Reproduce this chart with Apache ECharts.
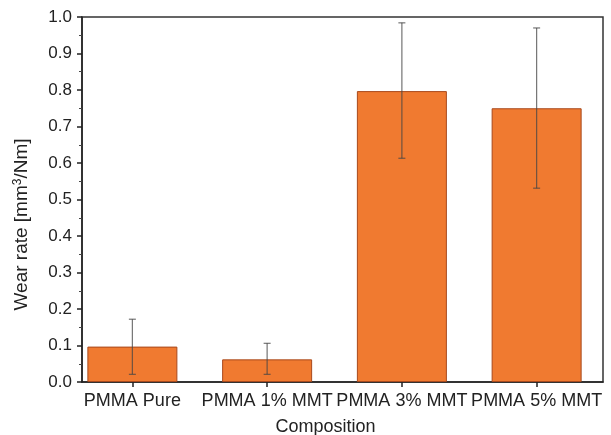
<!DOCTYPE html>
<html>
<head>
<meta charset="utf-8">
<script src="https://cdn.jsdelivr.net/npm/echarts@6/dist/echarts.min.js"></script>
<style>html,body{margin:0;padding:0;background:#fff}#c{width:611px;height:435px}</style>
</head>
<body>
<div id="c"></div>
<script>
const categories = ['PMMA Pure', 'PMMA 1% MMT', 'PMMA 3% MMT', 'PMMA 5% MMT'];
const wearRate = [0.097, 0.062, 0.797, 0.750];
const errLow = [0.021, 0.021, 0.613, 0.531];
const errHigh = [0.172, 0.106, 0.984, 0.970];
const yTicks = { min: 0, max: 1.0, interval: 0.1 };

const font = 'Liberation Sans, Arial, Helvetica, sans-serif';
const chart = echarts.init(document.getElementById('c'), null, { renderer: 'canvas' });

const errData = categories.map((c, i) => [i, errLow[i], errHigh[i]]);

chart.setOption({
  animation: false,
  backgroundColor: '#fff',
  grid: [
    { left: 82, right: 8, top: 17, bottom: 53, outerBoundsMode: 'none', containLabel: false,
      show: true, borderColor: '#333', borderWidth: 1.5, backgroundColor: 'transparent' },
    { left: 65, right: 7, top: 17, bottom: 53, outerBoundsMode: 'none', containLabel: false }
  ],
  xAxis: [
    { type: 'category', gridIndex: 0, data: categories,
      axisLine: { show: true, lineStyle: { color: '#222', width: 1.5 } },
      axisTick: { show: false }, axisLabel: { show: false }, splitLine: { show: false } },
    { type: 'category', gridIndex: 1, data: categories,
      axisLine: { show: false },
      axisTick: { show: true, alignWithLabel: true, length: 5, lineStyle: { color: '#222', width: 1.5 } },
      axisLabel: { interval: 0, color: '#222', fontSize: 18, fontFamily: font, margin: 10 },
      name: 'Composition', nameLocation: 'middle', nameGap: 36,
      nameTextStyle: { color: '#222', fontSize: 18, fontFamily: font, padding: [0, 18, 0, 0] } }
  ],
  yAxis: [
    { type: 'value', gridIndex: 0, min: yTicks.min, max: yTicks.max, interval: yTicks.interval,
      axisLine: { show: true, lineStyle: { color: '#222', width: 1.5 } },
      axisTick: { show: true, length: 5, lineStyle: { color: '#222', width: 1.5 } },
      minorTick: { show: true, splitNumber: 2, length: 3, lineStyle: { color: '#444', width: 1 } },
      splitLine: { show: false },
      axisLabel: { color: '#222', fontSize: 17, fontFamily: font, margin: 10, formatter: v => v.toFixed(1) },
      name: 'Wear rate [mm{sup|3}/Nm]', nameLocation: 'middle', nameGap: 50,
      nameTextStyle: { color: '#222', fontSize: 19, fontFamily: font, padding: [0, 50, 0, 0],
        rich: { sup: { fontSize: 12, fontFamily: font, color: '#222', verticalAlign: 'bottom', padding: [0, 0, 8, 0] } } } },
    { type: 'value', gridIndex: 1, min: yTicks.min, max: yTicks.max, show: false }
  ],
  series: [
    { type: 'bar', xAxisIndex: 1, yAxisIndex: 1, data: wearRate, barWidth: 90,
      itemStyle: { color: '#F07A30', borderColor: '#A8491C', borderWidth: 1 } },
    { type: 'custom', xAxisIndex: 1, yAxisIndex: 1, data: errData, z: 10,
      renderItem: function (params, api) {
        const x = api.value(0);
        const lo = api.coord([x, api.value(1)]);
        const hi = api.coord([x, api.value(2)]);
        const hw = 3.5;
        const st = { stroke: 'rgba(70,70,70,0.75)', lineWidth: 1.2 };
        return { type: 'group', children: [
          { type: 'line', shape: { x1: lo[0], y1: lo[1], x2: hi[0], y2: hi[1] }, style: st },
          { type: 'line', shape: { x1: lo[0] - hw, y1: lo[1], x2: lo[0] + hw, y2: lo[1] }, style: st },
          { type: 'line', shape: { x1: hi[0] - hw, y1: hi[1], x2: hi[0] + hw, y2: hi[1] }, style: st }
        ] };
      } }
  ]
});
</script>
</body>
</html>
